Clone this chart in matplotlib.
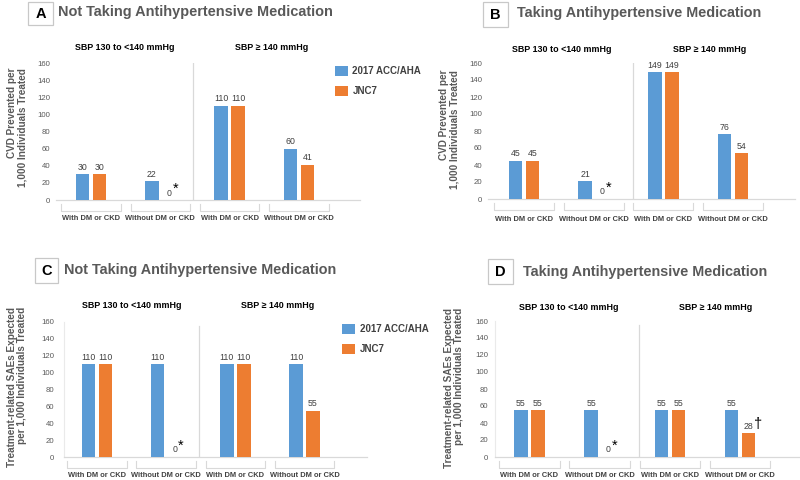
import matplotlib
matplotlib.use("Agg")
import matplotlib.pyplot as plt
from matplotlib.patches import Patch, Rectangle
from matplotlib.transforms import blended_transform_factory

plt.rcParams['font.family'] = ['Liberation Sans', 'DejaVu Sans']

# ---------------- data ----------------
categories = ["With DM or CKD", "Without DM or CKD", "With DM or CKD", "Without DM or CKD"]
group_titles = ["SBP 130 to <140 mmHg", "SBP \u2265 140 mmHg"]
series_names = ["2017 ACC/AHA", "JNC7"]
yticks = [0, 20, 40, 60, 80, 100, 120, 140, 160]

cvd_not_acc = [30, 22, 110, 60]
cvd_not_jnc = [30, 0, 110, 41]
cvd_tak_acc = [45, 21, 149, 76]
cvd_tak_jnc = [45, 0, 149, 54]
sae_not_acc = [110, 110, 110, 110]
sae_not_jnc = [110, 0, 110, 55]
sae_tak_acc = [55, 55, 55, 55]
sae_tak_jnc = [55, 0, 55, 28]

marks_abc = ["", "*", "", ""]
marks_d = ["", "*", "", "\u2020"]

panel_letters = ["A", "B", "C", "D"]
panel_titles = ["Not Taking Antihypertensive Medication", "Taking Antihypertensive Medication",
                "Not Taking Antihypertensive Medication", "Taking Antihypertensive Medication"]
ylabel_cvd = "CVD Prevented per\n1,000 Individuals Treated"
ylabel_sae = "Treatment-related SAEs Expected\nper 1,000 Individuals Treated"

BLUE = "#5B9BD5"
ORANGE = "#ED7D31"
GRID = "#D9D9D9"
GRAY = "#595959"
DARK = "#404040"

W, H = 800, 480
fig = plt.figure(figsize=(8, 4.8), dpi=100)
fig.patch.set_facecolor("white")


def fx(px):
    return px / W


def fy(py):
    return 1 - py / H


panels = [
    dict(acc=cvd_not_acc, jnc=cvd_not_jnc, marks=marks_abc, ylabel=ylabel_cvd,
         box=(28, 2, 53, 25), title_x=58, title_base=16, title_w=274,
         left=56, right=360, y0=200, ytop=63, c0=91, c3=299, sep=1.47, sep_top=160,
         sub_x=(125, 272), sub_base=50, cat_pad=10.5, ylab=(17, 68), tick_pad=4.3,
         lspine=False, legend=(335, 66)),
    dict(acc=cvd_tak_acc, jnc=cvd_tak_jnc, marks=marks_abc, ylabel=ylabel_cvd,
         box=(483, 2, 508, 27), title_x=517, title_base=17, title_w=245,
         left=488, right=795, y0=199, ytop=63, c0=524, c3=733, sep=1.56, sep_top=160,
         sub_x=(562, 710), sub_base=52, cat_pad=12.5, ylab=(449, 70), tick_pad=4.3,
         lspine=False, legend=None),
    dict(acc=sae_not_acc, jnc=sae_not_jnc, marks=marks_abc, ylabel=ylabel_sae,
         box=(35, 258, 58, 283), title_x=64, title_base=274, title_w=273,
         left=64, right=367, y0=457, ytop=322, c0=97, c3=304.5, sep=1.47, sep_top=155,
         sub_x=(132, 278), sub_base=308, cat_pad=10.5, ylab=(17, 307), tick_pad=7,
         lspine=True, legend=(342, 324)),
    dict(acc=sae_tak_acc, jnc=sae_tak_jnc, marks=marks_d, ylabel=ylabel_sae,
         box=(488, 259, 513, 284), title_x=523, title_base=276, title_w=245,
         left=495, right=800, y0=457, ytop=321, c0=529.5, c3=740, sep=1.56, sep_top=155,
         sub_x=(569, 716), sub_base=310, cat_pad=11, ylab=(454, 308), tick_pad=5,
         lspine=True, legend=None),
]

renderer = fig.canvas.get_renderer()


def fit_width(t, target):
    w = t.get_window_extent(renderer).width
    t.set_fontsize(t.get_fontsize() * target / w)


for i, p in enumerate(panels):
    ax = fig.add_axes([fx(p["left"]), fy(p["y0"]), fx(p["right"] - p["left"]),
                       (p["y0"] - p["ytop"]) / H])
    s = (p["c3"] - p["c0"]) / 3.0
    ax.set_xlim((p["left"] - p["c0"]) / s, (p["right"] - p["c0"]) / s)
    ax.set_ylim(0, 160)
    bw = 13.5 / s
    off = 8.5 / s
    xs = list(range(len(categories)))
    ax.bar([x - off for x in xs], p["acc"], width=bw, color=BLUE, zorder=3)
    ax.bar([x + off for x in xs], p["jnc"], width=bw, color=ORANGE, zorder=3)
    for x, v in zip(xs, p["acc"]):
        ax.annotate(str(v), (x - off, v), xytext=(0, 1.8), textcoords="offset points",
                    ha="center", va="bottom", fontsize=6.3, color=DARK)
    for x, v, m in zip(xs, p["jnc"], p["marks"]):
        ax.annotate(str(v), (x + off, v), xytext=(0, 1.8), textcoords="offset points",
                    ha="center", va="bottom", fontsize=6.3, color=DARK)
        if m == "*":
            ax.annotate(m, (x + off, v), xytext=(2.6, 3.0), textcoords="offset points",
                        ha="left", va="bottom", fontsize=10.5, color="black")
        elif m:
            ax.annotate(m, (x + off, v), xytext=(4.0, 1.5), textcoords="offset points",
                        ha="left", va="bottom", fontsize=10.5, color="black")

    # separator between SBP groups
    ax.plot([p["sep"], p["sep"]], [0, p["sep_top"]], color=GRID, lw=0.9, zorder=1)

    # category brackets
    hpx = p["y0"] - p["ytop"]
    tr = blended_transform_factory(ax.transData, ax.transAxes)
    yb, yt = -10.5 / hpx, -3.5 / hpx
    for x in xs:
        ax.plot([x - 0.43, x - 0.43, x + 0.43, x + 0.43], [yt, yb, yb, yt], color=GRID,
                lw=0.8, transform=tr, clip_on=False)

    ax.set_xticks(xs, categories, fontweight="bold", fontsize=5.4, color=DARK)
    ax.set_yticks(yticks, [str(t) for t in yticks], fontsize=5.6, color=GRAY)
    ax.tick_params(axis="x", length=0, pad=p["cat_pad"])
    ax.tick_params(axis="y", length=0, pad=p["tick_pad"])
    for sp in ["top", "right"]:
        ax.spines[sp].set_visible(False)
    ax.spines["left"].set_visible(p["lspine"])
    ax.spines["left"].set_color("#EAEAEA")
    ax.spines["left"].set_linewidth(0.8)
    ax.spines["bottom"].set_color(GRID)
    ax.spines["bottom"].set_linewidth(0.9)
    ax.set_facecolor("none")

    # SBP group headers
    for sx, gt in zip(p["sub_x"], group_titles):
        fig.text(fx(sx), fy(p["sub_base"]), gt, ha="center", va="baseline",
                 fontweight="bold", fontsize=6.4, color="black")

    # panel letter box + title
    x0, y0b, x1, y1b = p["box"]
    fig.patches.append(Rectangle((fx(x0), fy(y1b)), fx(x1 - x0), (y1b - y0b) / H,
                                 transform=fig.transFigure, facecolor="white",
                                 edgecolor="#C8C8C8", lw=0.9))
    fig.text(fx((x0 + x1) / 2), fy((y0b + y1b) / 2 + 0.5), panel_letters[i], ha="center",
             va="center", fontweight="bold", fontsize=10.5, color="black")
    t = fig.text(fx(p["title_x"]), fy(p["title_base"]), panel_titles[i], ha="left",
                 va="baseline", fontweight="bold", fontsize=10, color=GRAY)
    fit_width(t, p["title_w"])

    # y label
    fig.text(fx(p["ylab"][0]), fy(p["ylab"][1]), p["ylabel"], rotation=90, ha="center",
             va="top", multialignment="right", fontsize=7.2, color=GRAY,
             fontweight="bold", linespacing=1.1)

    if p["legend"] is not None:
        handles = [Patch(facecolor=BLUE), Patch(facecolor=ORANGE)]
        leg = fig.legend(handles, series_names, loc="upper left",
                         bbox_to_anchor=(fx(p["legend"][0]), fy(p["legend"][1])),
                         frameon=False, prop=dict(weight="bold", size=7.0),
                         handlelength=1.35, handleheight=1.15, handletextpad=0.45,
                         labelspacing=1.05, borderpad=0, borderaxespad=0)
        for txt in leg.get_texts():
            txt.set_color(DARK)

fig.savefig("out.png", dpi=100, facecolor="white")
